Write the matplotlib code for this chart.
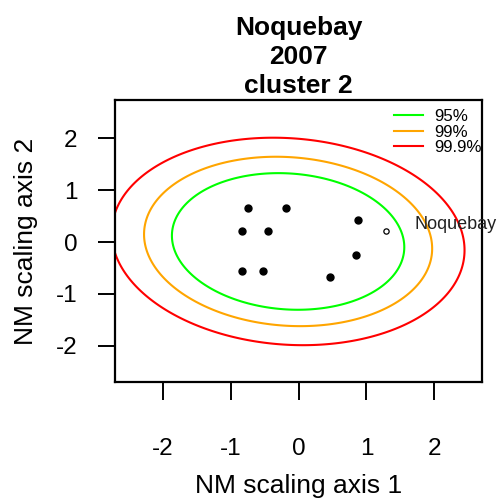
import numpy as np
import matplotlib
matplotlib.use("Agg")
import matplotlib.pyplot as plt
from matplotlib.lines import Line2D

plt.rcParams['font.family'] = ['Liberation Sans', 'DejaVu Sans']

# ---- data ----
cluster_x = [-0.747, -0.18, 0.875, -0.83, -0.447, 0.84, -0.83, -0.515, 0.457]
cluster_y = [0.665, 0.665, 0.43, 0.205, 0.205, -0.257, -0.565, -0.565, -0.68]
site_name = "Noquebay"
site_x = [1.288]
site_y = [0.217]
conf_levels = [0.95, 0.99, 0.999]
conf_labels = ["95%", "99%", "99.9%"]
conf_colors = ["#00FF00", "#FFA500", "#FF0000"]
xticks = [-2, -1, 0, 1, 2]
yticks = [-2, -1, 0, 1, 2]
title = "Noquebay\n2007\ncluster 2"

fig = plt.figure(figsize=(4.98, 5.0), dpi=100)
W, H = 498, 500
L, R, T, B = 115, 482, 100, 382
ax = fig.add_axes([L / W, 1 - B / H, (R - L) / W, (B - T) / H])

# confidence ellipses from the cluster covariance (chi-square, 2 df)
pts = np.vstack([cluster_x, cluster_y])
mu = pts.mean(axis=1)
cov = np.cov(pts)
icov = np.linalg.inv(cov)
gx = np.linspace(-3.2, 3.2, 160)
gy = np.linspace(-3.2, 3.2, 160)
GX, GY = np.meshgrid(gx, gy)
DX, DY = GX - mu[0], GY - mu[1]
D2 = icov[0, 0] * DX**2 + 2 * icov[0, 1] * DX * DY + icov[1, 1] * DY**2
levels = [-2 * np.log(1 - p) for p in conf_levels]
ax.contour(GX, GY, D2, levels=levels, colors=conf_colors, linewidths=1.5)

# points
ax.plot(cluster_x, cluster_y, 'o', color='black', markersize=5.0, zorder=3)
ax.plot(site_x, site_y, 'o', mfc='white', mec='black', mew=0.9,
        markersize=3.8, zorder=3)
ax.annotate(site_name, (site_x[0], site_y[0]), xytext=(20.5, 4.3),
            textcoords='offset points', ha='left', va='center',
            fontsize=13, color='#222222', annotation_clip=False)

ax.set_xlim(-2.70, 2.70)
ax.set_ylim(-2.70, 2.74)
ax.set_xticks(xticks)
ax.set_yticks(yticks)
ax.set_xticklabels([str(t) for t in xticks])
ax.set_yticklabels([str(t) for t in yticks])

for s in ax.spines.values():
    s.set_linewidth(1.6)
ax.tick_params(axis='both', length=12.6, width=1.4, labelsize=17.5)
ax.tick_params(axis='x', pad=27.5)
ax.tick_params(axis='y', pad=14.4)

ax.set_xlabel("NM scaling axis 1", fontsize=19, labelpad=10)
ax.set_ylabel("NM scaling axis 2", fontsize=19, labelpad=13)
ax.set_title(title, fontsize=19, fontweight='bold', pad=5, linespacing=1.27)

handles = [Line2D([], [], color=c, lw=1.5) for c in conf_colors]
ax.legend(handles, conf_labels, loc='upper right',
          bbox_to_anchor=(1.0, 1 - 9 / 282), frameon=False,
          fontsize=12.2, handlelength=1.76, handletextpad=0.65,
          borderpad=0, borderaxespad=0, labelspacing=0.03)

fig.savefig("out.png", dpi=100)
